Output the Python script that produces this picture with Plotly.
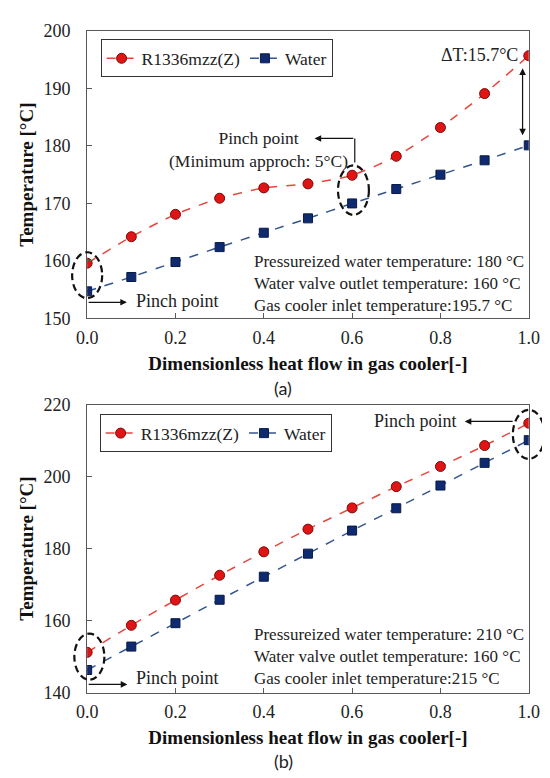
import plotly.graph_objects as go

# --- data ---
x_frac = [0.0, 0.1, 0.2, 0.3, 0.4, 0.5, 0.6, 0.7, 0.8, 0.9, 1.0]

# (a) pressurized water 180 C
ref_a = [159.6, 164.2, 168.1, 170.9, 172.7, 173.4, 174.9, 178.2, 183.2, 189.1, 195.7]
water_a = [154.7, 157.2, 159.8, 162.4, 164.9, 167.4, 170.0, 172.5, 175.0, 177.5, 180.1]

# (b) pressurized water 210 C
ref_b = [151.2, 158.7, 165.7, 172.6, 179.1, 185.4, 191.3, 197.2, 202.8, 208.6, 214.8]
water_b = [146.3, 152.8, 159.3, 165.8, 172.2, 178.6, 185.0, 191.2, 197.5, 203.8, 210.1]

notes_a = ["Pressureized water temperature: 180 °C",
           "Water valve outlet temperature: 160 °C",
           "Gas cooler inlet temperature:195.7 °C"]
notes_b = ["Pressureized water temperature: 210 °C",
           "Water valve outlet temperature: 160 °C",
           "Gas cooler inlet temperature:215 °C"]

yr_a = [150, 200]
yr_b = [140, 220]

SERIF = "Liberation Serif"
RED, RED_EDGE, RED_LINE = "#e01414", "#7a0a0a", "#e5473f"
BLUE, BLUE_EDGE, BLUE_LINE = "#0f2a6e", "#081a48", "#33558f"
AX = "#595959"

fig = go.Figure()

def add_pair(ref, water, xa, ya, leg):
    fig.add_trace(go.Scatter(
        x=x_frac, y=ref, name="R1336mzz(Z)", mode="lines+markers",
        line=dict(color=RED_LINE, dash="dash", width=1.5, shape="spline", smoothing=0.6),
        marker=dict(symbol="circle", size=10, color=RED, line=dict(color=RED_EDGE, width=1)),
        xaxis=xa, yaxis=ya, legend=leg))
    fig.add_trace(go.Scatter(
        x=x_frac, y=water, name="Water", mode="lines+markers",
        line=dict(color=BLUE_LINE, dash="dash", width=1.5, shape="spline", smoothing=0.6),
        marker=dict(symbol="square", size=9, color=BLUE, line=dict(color=BLUE_EDGE, width=1)),
        xaxis=xa, yaxis=ya, legend=leg))

add_pair(ref_a, water_a, "x", "y", "legend")
add_pair(ref_b, water_b, "x2", "y2", "legend2")

W, H = 550, 778
xdom = [71 / W, 531 / W]
ydom_a = [1 - 308.3 / H, 1 - 13.3 / H]
ydom_b = [1 - 692.5 / H, 1 - 396.7 / H]

axis_common = dict(
    showline=True, linecolor=AX, linewidth=1.3, mirror=True,
    ticks="inside", ticklen=5, tickcolor=AX, showgrid=False, zeroline=False,
    tickfont=dict(family=SERIF, size=18, color="#222"),
)
xaxis_common = dict(axis_common, range=[0, 1], dtick=0.2, tickformat=".1f",
                    ticklabelstandoff=3,
                    title=dict(text="<b>Dimensionless heat flow in gas cooler[-]</b>",
                               font=dict(family=SERIF, size=19, color="#111"), standoff=9))
yaxis_common = dict(axis_common, dtick=10, ticklabelstandoff=12,
                    title=dict(text="<b>Temperature [°C]</b>",
                               font=dict(family=SERIF, size=19, color="#111"), standoff=4))

legend_common = dict(orientation="h", bgcolor="white", bordercolor="#333", borderwidth=1,
                     font=dict(family=SERIF, size=17.5, color="#222"),
                     xanchor="left", yanchor="top", itemwidth=30, tracegroupgap=0)

fig.update_layout(
    width=W, height=H, margin=dict(l=0, r=0, t=0, b=0),
    paper_bgcolor="white", plot_bgcolor="white",
    xaxis=dict(xaxis_common, domain=xdom, anchor="y"),
    yaxis=dict(yaxis_common, domain=ydom_a, range=yr_a, anchor="x"),
    xaxis2=dict(xaxis_common, domain=xdom, anchor="y2"),
    yaxis2=dict(yaxis_common, domain=ydom_b, range=yr_b, anchor="x2", dtick=20),
    legend=dict(legend_common, x=85 / W, y=1 - 22 / H),
    legend2=dict(legend_common, x=84 / W, y=1 - 406.7 / H),
)

# helpers: dashed ellipses drawn in axis-domain units so they are not clipped
def ellipse(cx, cy, hw, hh, xa, ya, yr):
    fy = lambda v: (v - yr[0]) / (yr[1] - yr[0])
    fig.add_shape(type="circle", xref=xa + " domain", yref=ya + " domain",
                  x0=cx - hw, x1=cx + hw, y0=fy(cy - hh), y1=fy(cy + hh),
                  line=dict(color="#111", width=2.2, dash="7px,4px"))

def arrow(x0, y0, x1, y1, xa, ya, both=False):
    fig.add_annotation(x=x1, y=y1, ax=x0, ay=y0, xref=xa, yref=ya, axref=xa, ayref=ya,
                       text="", showarrow=True, arrowhead=2, arrowsize=1.1, arrowwidth=1.2,
                       arrowcolor="#111", arrowside="end+start" if both else "end",
                       startarrowhead=2, startarrowsize=1.1)

def label(x, y, text, xa, ya, anchor="left", size=18, align="left"):
    fig.add_annotation(x=x, y=y, xref=xa, yref=ya, text=text, showarrow=False,
                       xanchor=anchor, yanchor="middle", align=align,
                       font=dict(family=SERIF, size=size, color="#222"))

# ---- (a) ----
ellipse(0.0, 157.5, 0.034, 4.0, "x", "y", yr_a)
ellipse(0.603, 172.3, 0.035, 4.3, "x", "y", yr_a)
arrow(0.0, 152.8, 0.09, 152.8, "x", "y")
label(0.107, 153.1, "Pinch point", "x", "y")
label(0.388, 179.4, "Pinch point<br>(Minimum approch: 5°C)", "x", "y",
      anchor="center", size=17.5, align="center")
fig.add_shape(type="line", xref="x", yref="y", x0=0.606, x1=0.606, y0=177.1, y1=181.3,
              line=dict(color="#111", width=1.2))
arrow(0.606, 181.3, 0.515, 181.3, "x", "y")
label(0.980, 195.8, "ΔT:15.7°C", "x", "y", anchor="right")
arrow(0.986, 181.6, 0.986, 193.5, "x", "y", both=True)
label(0.373, 156.1, "<br>".join(notes_a), "x", "y", size=17)

# ---- (b) ----
ellipse(0.005, 150.0, 0.034, 6.4, "x2", "y2", yr_b)
ellipse(1.0, 211.7, 0.036, 6.8, "x2", "y2", yr_b)
arrow(0.0, 142.3, 0.091, 142.3, "x2", "y2")
label(0.1065, 144.1, "Pinch point", "x2", "y2")
arrow(0.967, 215.3, 0.855, 215.3, "x2", "y2")
label(0.843, 215.3, "Pinch point", "x2", "y2", anchor="right")
label(0.373, 150.1, "<br>".join(notes_b), "x2", "y2", size=17)

# panel letters
for txt, yy in [("(a)", 380), ("(b)", 763)]:
    fig.add_annotation(x=275 / W, y=1 - yy / H, xref="paper", yref="paper", text=txt,
                       showarrow=False, xanchor="center", yanchor="middle",
                       font=dict(family="Lato", size=18, color="#222"))

fig.write_html("out.html")
